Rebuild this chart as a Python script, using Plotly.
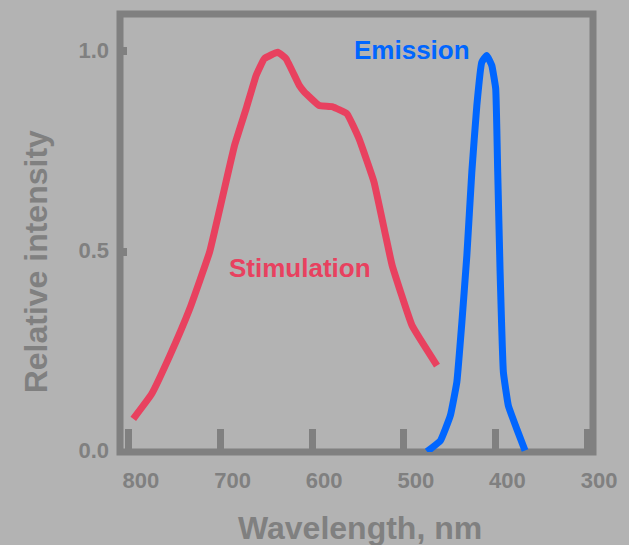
import plotly.graph_objects as go

# Stimulation spectrum (red)
stim_nm = [795.3, 775.3, 755.4, 733.7, 712.0, 684.8, 672.1, 661.2, 652.2, 637.7,
           628.6, 614.1, 608.7, 592.4, 578.3, 562.0, 548.9, 532.6, 519.9, 512.7,
           491.0, 463.8]
stim_val = [0.082, 0.144, 0.240, 0.357, 0.499, 0.765, 0.857, 0.940, 0.982, 0.998,
            0.982, 0.915, 0.899, 0.865, 0.862, 0.844, 0.782, 0.674, 0.540, 0.465,
            0.315, 0.215]

# Emission spectrum (blue)
emis_nm = [474.7, 460.1, 449.2, 442.1, 436.6, 431.2, 425.8, 420.3, 414.9, 409.5,
           404.0, 399.7, 397.5, 394.9, 391.3, 385.9, 376.8, 367.7]
emis_val = [0.000, 0.027, 0.090, 0.174, 0.324, 0.490, 0.698, 0.865, 0.973, 0.990,
            0.965, 0.907, 0.698, 0.449, 0.198, 0.115, 0.057, 0.003]

x_ticks = [800, 700, 600, 500, 400, 300]
x_labels = ["800", "700", "600", "500", "400", "300"]
y_ticks = [0.0, 0.5, 1.0]
y_labels = ["0.0", "0.5", "1.0"]

BG = "#b3b3b3"
GRAY = "#808080"
RED = "#e8415f"
BLUE = "#0066ff"
FONT = "Liberation Sans, Arial, sans-serif"

fig = go.Figure()
fig.add_trace(go.Scatter(x=stim_nm, y=stim_val, mode="lines",
                         line=dict(color=RED, width=7, shape="spline", smoothing=0.3),
                         hoverinfo="skip"))
fig.add_trace(go.Scatter(x=emis_nm, y=emis_val, mode="lines",
                         line=dict(color=BLUE, width=7, shape="spline", smoothing=0.3),
                         hoverinfo="skip"))

fig.add_shape(type="rect", xref="paper", yref="paper", x0=0, x1=1, y0=0, y1=1,
              line=dict(color=GRAY, width=7), layer="below")

fig.update_layout(
    width=629, height=545,
    margin=dict(l=120, r=34, t=14, b=93),
    paper_bgcolor=BG, plot_bgcolor=BG,
    showlegend=False,
    font=dict(family=FONT, color=GRAY, size=22, weight="bold"),
    xaxis=dict(range=[809.8, 293.5], tickmode="array", tickvals=x_ticks, ticktext=x_labels,
               ticks="inside", ticklen=23, tickwidth=7, tickcolor=GRAY,
               showgrid=False, zeroline=False, showline=False,
               ticklabelshift=-12, ticklabelstandoff=13,
               tickfont=dict(family=FONT, size=22, color=GRAY, weight="bold")),
    yaxis=dict(range=[-0.001, 1.0935], tickmode="array", tickvals=y_ticks, ticktext=y_labels,
               ticks="inside", ticklen=7, tickwidth=8, tickcolor=GRAY,
               showgrid=False, zeroline=False, showline=False,
               ticklabelstandoff=10, ticklabelshift=-1,
               tickfont=dict(family=FONT, size=22, color=GRAY, weight="bold")),
)

fig.add_annotation(text="Wavelength, nm", xref="paper", yref="paper", x=0.5074, y=-0.1739,
                   xanchor="center", yanchor="middle", showarrow=False,
                   font=dict(family=FONT, size=32, color=GRAY, weight="bold"))
fig.add_annotation(text="Relative intensity", xref="paper", yref="paper", x=-0.178, y=0.4348,
                   xanchor="center", yanchor="middle", showarrow=False, textangle=-90,
                   font=dict(family=FONT, size=32, color=GRAY, weight="bold"))
fig.add_annotation(text="Emission", x=491.3, y=1.004, xref="x", yref="y",
                   xanchor="center", yanchor="middle", showarrow=False,
                   font=dict(family=FONT, size=26, color=BLUE, weight="bold"))
fig.add_annotation(text="Stimulation", x=613.3, y=0.459, xref="x", yref="y",
                   xanchor="center", yanchor="middle", showarrow=False,
                   font=dict(family=FONT, size=26, color=RED, weight="bold"))

fig.write_html("out.html")
